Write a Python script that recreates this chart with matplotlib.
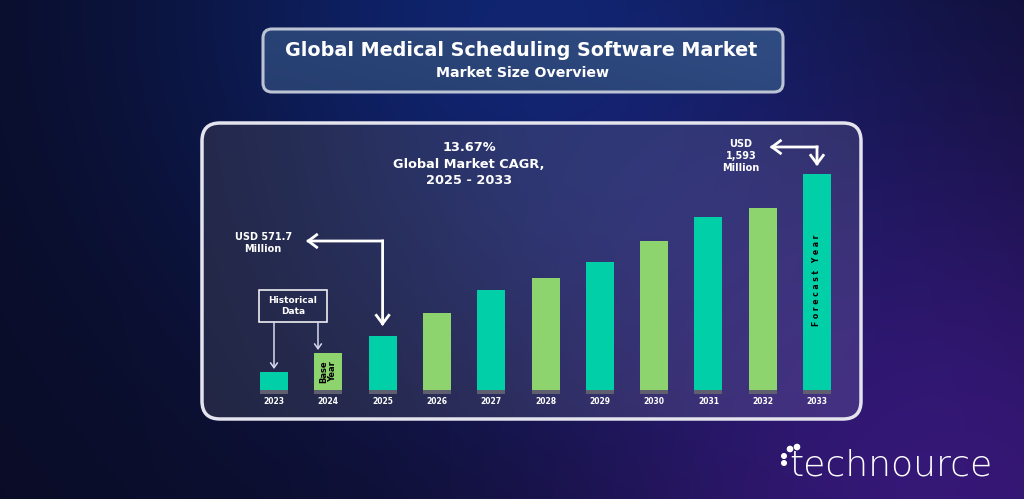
import numpy as np
import matplotlib
matplotlib.use("Agg")
import matplotlib.pyplot as plt
from matplotlib.patches import FancyBboxPatch, Rectangle, Circle

# ---------------- data ----------------
years = ["2023", "2024", "2025", "2026", "2027", "2028", "2029", "2030", "2031", "2032", "2033"]
# relative bar heights as drawn in the infographic (illustrative, not to scale)
bar_heights = [18, 37, 54, 77, 100, 112, 128, 149, 173, 182, 216]
bar_colors = ["#00CFA8", "#8DD36E", "#00CFA8", "#8DD36E", "#00CFA8", "#8DD36E",
              "#00CFA8", "#8DD36E", "#00CFA8", "#8DD36E", "#00CFA8"]
title = "Global Medical Scheduling Software Market"
subtitle = "Market Size Overview"
cagr_text = "13.67%\nGlobal Market CAGR,\n2025 - 2033"
start_label = "USD 571.7\nMillion"
end_label = "USD\n1,593\nMillion"

W, H = 1024, 499
fig = plt.figure(figsize=(W / 100, H / 100), dpi=100)

# ---------------- background ----------------
bg = fig.add_axes([0, 0, 1, 1])
bg.set_xlim(0, W)
bg.set_ylim(H, 0)
bg.axis("off")

yy, xx = np.mgrid[0:H, 0:W]
def glow(cx, cy, r):
    return np.exp(-(((xx - cx) ** 2 + (yy - cy) ** 2) / (2 * r ** 2)))
img = np.zeros((H, W, 3))
img[:] = np.array([10, 12, 38]) / 255
img += glow(520, 10, 260)[..., None] * (np.array([4, 24, 70]) / 255)
img += glow(960, 520, 280)[..., None] * (np.array([44, 10, 78]) / 255)
img = np.clip(img, 0, 1)
bg.imshow(img, extent=[0, W, H, 0], zorder=0, aspect="auto")

# title box
tbox = FancyBboxPatch((263, 29), 520, 63, boxstyle="round,pad=0,rounding_size=9",
                      facecolor="none", edgecolor="#bcc3d4", lw=2.2, zorder=3)
bg.add_patch(tbox)
tx = np.linspace(0, 1, 520)[None, :]
ty = np.linspace(0, 1, 63)[:, None]
c1 = np.array([38, 62, 112]) / 255
c2 = np.array([50, 80, 136]) / 255
t = 0.55 * tx + 0.25 * (1 - ty)
tg = c1 + (c2 - c1) * np.clip(t, 0, 1)[..., None]
im = bg.imshow(tg, extent=[263, 783, 92, 29], zorder=2, aspect="auto")
im.set_clip_path(tbox)
bg.text(521, 50, title, ha="center", va="center", color="white",
        fontsize=13.8, fontweight="bold", family="DejaVu Sans", zorder=4)
bg.text(523, 73, subtitle, ha="center", va="center", color="white",
        fontsize=10.2, fontweight="bold", family="DejaVu Sans", zorder=4)

# panel
px0, py0, px1, py1 = 202, 123, 861, 419
panel = FancyBboxPatch((px0, py0), px1 - px0, py1 - py0,
                       boxstyle="round,pad=0,rounding_size=18",
                       facecolor="none", edgecolor="#e4e4ee", lw=2.5, zorder=3)
bg.add_patch(panel)
ph, pw = py1 - py0, px1 - px0
pyy, pxx = np.mgrid[0:ph, 0:pw]
def pglow(cx, cy, r):
    return np.exp(-(((pxx - cx) ** 2 + (pyy - cy) ** 2) / (2 * r ** 2)))
pimg = np.zeros((ph, pw, 3))
pimg[:] = np.array([34, 37, 64]) / 255
pimg += pglow(380, -30, 230)[..., None] * (np.array([8, 18, 46]) / 255)
pimg += pglow(700, 330, 230)[..., None] * (np.array([34, 8, 58]) / 255)
pimg = np.clip(pimg, 0, 1)
pim = bg.imshow(pimg, extent=[px0, px1, py1, py0], zorder=2, aspect="auto")
pim.set_clip_path(panel)

# logo
for (cx, cy, r) in [(790, 449, 2.6), (797, 447, 2.6), (784, 456, 2.3), (784, 463, 2.3)]:
    bg.add_patch(Circle((cx, cy), r, color="white", zorder=4))
bg.text(789, 465, "technource", ha="left", va="center", color="white",
        fontsize=26, fontweight="light", family="DejaVu Sans", zorder=4)

# ---------------- bar chart ----------------
x0_pix, dx_pix = 274, 54.3
base_pix = 390
ax = fig.add_axes([px0 / W, 1 - py1 / H, (px1 - px0) / W, (py1 - py0) / H])
ax.set_xlim(-(x0_pix - px0) / dx_pix, 10 + (px1 - (x0_pix + 10 * dx_pix)) / dx_pix)
ax.set_ylim(-(py1 - base_pix), base_pix - py0)
ax.axis("off")
ax.patch.set_alpha(0)

xs = np.arange(len(years))
bw = 28 / dx_pix
ax.bar(xs, bar_heights, width=bw, color=bar_colors, zorder=3)
ax.bar(xs, [3.5] * len(xs), bottom=-3.5, width=bw, color="#5f5f70", zorder=3)
for x, yr in zip(xs, years):
    ax.text(x, -11, yr, ha="center", va="center", color="white",
            fontsize=5.5, fontweight="bold", zorder=4)

# labels inside bars
ax.text(1, bar_heights[1] / 2, "Base\nYear", rotation=90, ha="center", va="center",
        color="black", fontsize=6, fontweight="bold", linespacing=1.0, zorder=4)
ax.text(10, 110, "F o r e c a s t   Y e a r", rotation=90, ha="center", va="center",
        color="black", fontsize=5.5, fontweight="bold", zorder=4)

# CAGR text
ax.text((469 - x0_pix) / dx_pix, 226, cagr_text, ha="center", va="center", color="white",
        fontsize=9.3, fontweight="bold", linespacing=1.32, zorder=4)

arrow_kw = dict(arrowstyle="->,head_length=0.6,head_width=0.45", color="white",
                lw=2, shrinkA=0, shrinkB=0, joinstyle="miter", capstyle="projecting")

# 2025 annotation
y_top = 149
ax.annotate("", xy=(2, bar_heights[2] + 10), xytext=(2, y_top), arrowprops=arrow_kw, zorder=4)
ax.annotate("", xy=(0.59, y_top), xytext=(2, y_top), arrowprops=arrow_kw, zorder=4)
ax.text(-0.2, 147, start_label, ha="center", va="center", color="white",
        fontsize=7, fontweight="bold", linespacing=1.25, zorder=4)

# 2033 annotation
y_top2 = 243
ax.annotate("", xy=(10, bar_heights[10] + 8), xytext=(10, y_top2), arrowprops=arrow_kw, zorder=4)
ax.annotate("", xy=(9.13, y_top2), xytext=(10, y_top2), arrowprops=arrow_kw, zorder=4)
ax.text(8.6, 234, end_label, ha="center", va="center", color="white",
        fontsize=7, fontweight="bold", linespacing=1.25, zorder=4)

# Historical data box
hx0, hx1 = -0.28, 0.98
hy0, hy1 = 68, 100
ax.add_patch(Rectangle((hx0, hy0), hx1 - hx0, hy1 - hy0, fill=False,
                       edgecolor="white", lw=1.1, zorder=4))
ax.text((hx0 + hx1) / 2, (hy0 + hy1) / 2, "Historical\nData", ha="center", va="center",
        color="white", fontsize=6.5, fontweight="bold", linespacing=1.35, zorder=4)
thin_kw = dict(arrowstyle="->,head_length=0.35,head_width=0.25", color="#d8d8ee",
               lw=1.1, shrinkA=0, shrinkB=0)
ax.annotate("", xy=(0, bar_heights[0] + 3), xytext=(0, hy0), arrowprops=thin_kw, zorder=4)
ax.annotate("", xy=(0.81, bar_heights[1] + 3), xytext=(0.81, hy0), arrowprops=thin_kw, zorder=4)

fig.savefig("out.png", dpi=100)
